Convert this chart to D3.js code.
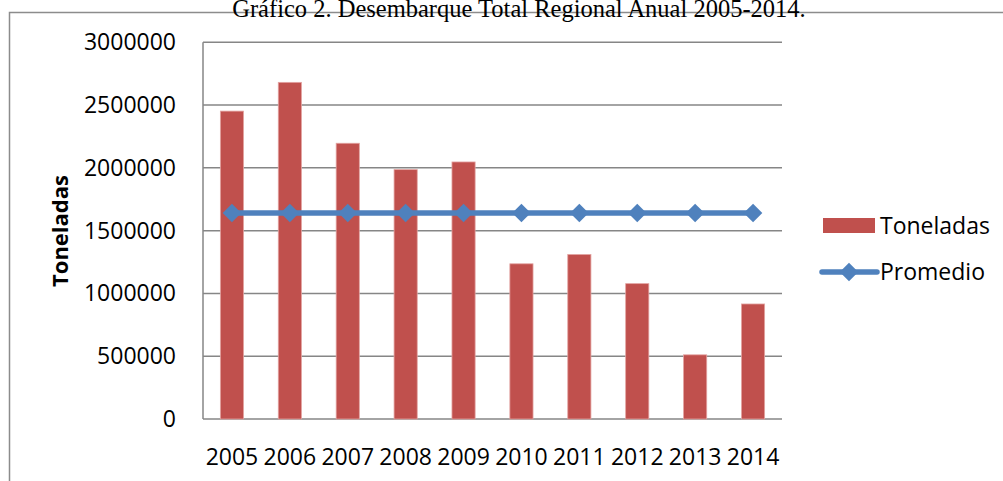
<!DOCTYPE html>
<html lang="es">
<head>
<meta charset="UTF-8">
<title>Desembarque Total Regional Anual 2005-2014</title>
<script src="https://d3js.org/d3.v7.min.js"></script>
<style>
    body { margin: 0; background: #fff; }
    svg { display: block; }
    .tick-label { font-family: "Open Sans", sans-serif; font-size: 23px; fill: #000; }
    .title { font-family: "Liberation Serif", "Times New Roman", serif; font-size: 24.5px; fill: #000; }
    .ylabel { font-family: "Open Sans", sans-serif; font-size: 22px; font-weight: bold; fill: #000; }
    .legend { font-family: "Open Sans", sans-serif; font-size: 23px; fill: #000; }
</style>
</head>
<body>
<svg id="chart" width="1003" height="481"></svg>
<script>
    // data
    const years = ["2005", "2006", "2007", "2008", "2009", "2010", "2011", "2012", "2013", "2014"];
    const toneladas = [2452000, 2681000, 2196000, 1986000, 2047000, 1236000, 1310000, 1078000, 511000, 916000];
    const promedio = [1641000, 1641000, 1641000, 1641000, 1641000, 1641000, 1641000, 1641000, 1641000, 1641000];
    const yTicks = [0, 500000, 1000000, 1500000, 2000000, 2500000, 3000000];

    const barColor = "#C0504D";
    const lineColor = "#4F81BD";
    const gridColor = "#868686";

    const svg = d3.select("#chart");

    // outer frame (runs off the right and bottom edges)
    svg.append("rect")
        .attr("x", 9.5).attr("y", 12.5)
        .attr("width", 1010).attr("height", 480)
        .attr("fill", "none")
        .attr("stroke", "#8c8c8c")
        .attr("stroke-width", 1.5);

    // title, its top runs off the page like in the source
    svg.append("text")
        .attr("class", "title")
        .attr("x", 519).attr("y", 17)
        .attr("text-anchor", "middle")
        .text("Gráfico 2. Desembarque Total Regional Anual 2005-2014.");

    const plot = { left: 203, right: 782, top: 42.3, bottom: 419 };

    const x = d3.scaleBand()
        .domain(years)
        .range([plot.left, plot.right])
        .paddingInner(0.6)
        .paddingOuter(0.3);

    const xc = d3.scalePoint()
        .domain(years)
        .range([plot.left, plot.right])
        .padding(0.5);

    const y = d3.scaleLinear()
        .domain([0, 3000000])
        .range([plot.bottom, plot.top]);

    const g = svg.append("g");

    // gridlines
    g.selectAll(".grid")
        .data(yTicks)
        .enter().append("line")
        .attr("x1", plot.left).attr("x2", plot.right)
        .attr("y1", d => y(d)).attr("y2", d => y(d))
        .attr("stroke", gridColor)
        .attr("stroke-width", 1.5);

    // left axis line
    g.append("line")
        .attr("x1", plot.left).attr("x2", plot.left)
        .attr("y1", plot.top).attr("y2", plot.bottom)
        .attr("stroke", gridColor)
        .attr("stroke-width", 1.5);

    // y tick labels
    g.selectAll(".ytl")
        .data(yTicks)
        .enter().append("text")
        .attr("class", "tick-label")
        .attr("x", 176)
        .attr("y", d => y(d))
        .attr("dy", "0.35em")
        .attr("text-anchor", "end")
        .text(d => d);

    // x tick labels
    g.selectAll(".xtl")
        .data(years)
        .enter().append("text")
        .attr("class", "tick-label")
        .attr("x", d => xc(d))
        .attr("y", 465)
        .attr("text-anchor", "middle")
        .text(d => d);

    // bars
    g.selectAll(".bar")
        .data(toneladas)
        .enter().append("rect")
        .attr("x", (d, i) => x(years[i]))
        .attr("y", d => y(d))
        .attr("width", x.bandwidth())
        .attr("height", d => y(0) - y(d))
        .attr("fill", barColor)
        .attr("stroke", "#e3a3a1")
        .attr("stroke-width", 0.8);

    // average line
    const line = d3.line()
        .x((d, i) => xc(years[i]))
        .y(d => y(d));

    g.append("path")
        .datum(promedio)
        .attr("d", line)
        .attr("fill", "none")
        .attr("stroke", lineColor)
        .attr("stroke-width", 5.5);

    const diamond = d3.symbol().type(d3.symbolDiamond2).size(220);
    g.selectAll(".pt")
        .data(promedio)
        .enter().append("path")
        .attr("d", diamond)
        .attr("transform", (d, i) => `translate(${xc(years[i])},${y(d)})`)
        .attr("fill", lineColor);

    // y axis title
    svg.append("text")
        .attr("class", "ylabel")
        .attr("transform", "translate(68,231) rotate(-90)")
        .attr("text-anchor", "middle")
        .text("Toneladas");

    // legend
    const lg = svg.append("g");
    lg.append("rect")
        .attr("x", 823).attr("y", 218)
        .attr("width", 52).attr("height", 15)
        .attr("fill", barColor);
    lg.append("text")
        .attr("class", "legend")
        .attr("x", 880).attr("y", 225.5)
        .attr("dy", "0.35em")
        .text("Toneladas");
    lg.append("line")
        .attr("x1", 822).attr("x2", 877)
        .attr("y1", 272).attr("y2", 272)
        .attr("stroke", lineColor)
        .attr("stroke-width", 5.5)
        .attr("stroke-linecap", "round");
    lg.append("path")
        .attr("d", diamond)
        .attr("transform", "translate(849,272)")
        .attr("fill", lineColor);
    lg.append("text")
        .attr("class", "legend")
        .attr("x", 880).attr("y", 272)
        .attr("dy", "0.35em")
        .text("Promedio");
</script>
</body>
</html>
